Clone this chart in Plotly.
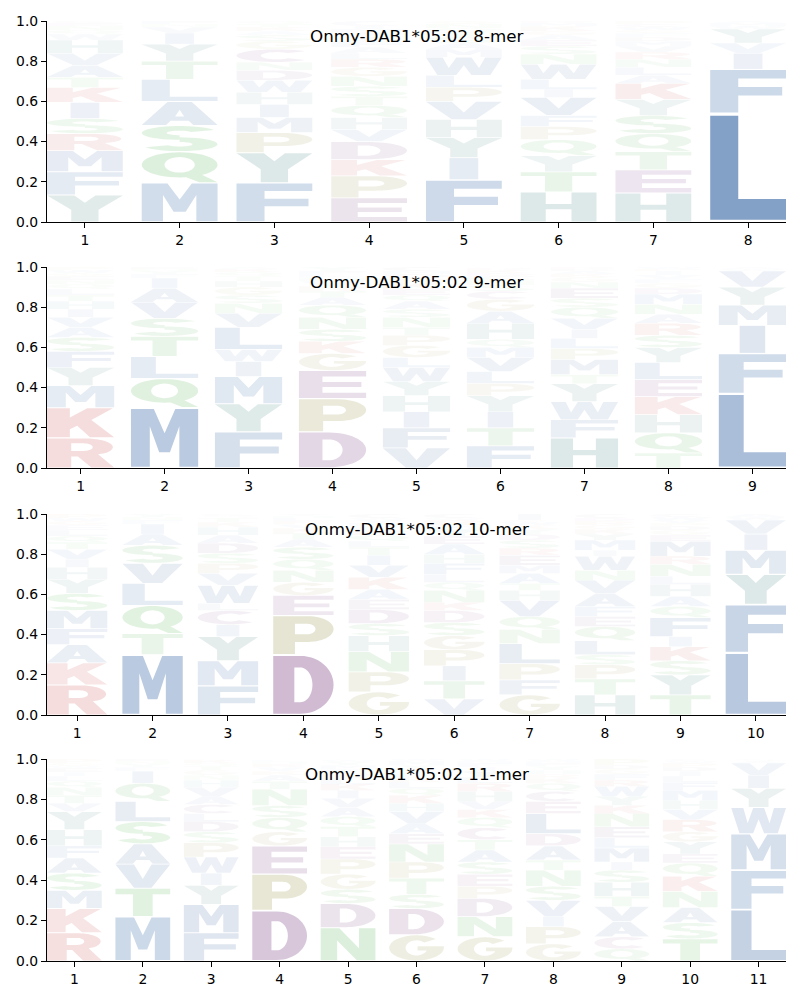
import math
import plotly.graph_objects as go

# ---------------- data ----------------
TITLES = ["Onmy-DAB1*05:02 8-mer", "Onmy-DAB1*05:02 9-mer",
          "Onmy-DAB1*05:02 10-mer", "Onmy-DAB1*05:02 11-mer"]

MER8_LETTERS = ["YFMRSIKTAVHWQNEG", "MQSALTYIVNF", "FYPMIHWDNCGSAKTQ",
                "EPKDVHQTSNGRLAFYWMIC", "FIYHVPLWMASTQNG", "HTYQPFVILWNSEAGKMR",
                "HETQSYKALNRVMDFGWCP", "LFIVYWMA"]
MER8_HEIGHTS = [
    [.135, .115, .105, .085, .075, .08, .075, .05, .06, .06, .065, .03, .02, .02, .015, .01],
    [.195, .155, .13, .12, .11, .09, .085, .055, .03, .015, .015],
    [.195, .15, .1, .075, .065, .06, .06, .05, .04, .065, .04, .03, .02, .02, .015, .015],
    [.12, .11, .08, .09, .06, .06, .06, .045, .05, .05, .045, .04, .03, .03, .03, .025, .02, .015, .015, .025],
    [.21, .11, .1, .09, .09, .07, .06, .09, .04, .03, .03, .025, .02, .02, .015],
    [.15, .1, .08, .08, .065, .055, .09, .04, .05, .075, .05, .04, .03, .025, .02, .025, .015, .01],
    [.145, .115, .09, .09, .09, .08, .08, .04, .04, .04, .035, .03, .025, .02, .02, .015, .015, .015, .015],
    [.54, .22, .08, .05, .07, .015, .015, .01],
]

MER9_LETTERS = ["RKMYFSAVIHTLQNEGWP", "MQLTSVAIFYNE", "FYMIWLVNSGHTQKA",
                "DPEGKSNQATRVHLFY", "VFIHYWLGPTNSAQEKRDMC", "FTIYPLVMQHAGCSNEDKRW",
                "HFWYTMPLIVQSENGKADR", "TQHKELYSRANMDGFVIPW", "LFIMYVWA"]
MER9_HEIGHTS = [
    [.15, .15, .11, .09, .08, .07, .05, .05, .04, .04, .03, .03, .025, .02, .02, .015, .015, .015],
    [.3, .145, .11, .1, .09, .08, .07, .05, .02, .015, .01, .01],
    [.18, .14, .135, .075, .06, .11, .07, .05, .04, .04, .03, .025, .02, .015, .01],
    [.18, .165, .14, .085, .06, .06, .06, .06, .04, .03, .025, .025, .02, .015, .015, .02],
    [.1, .1, .08, .08, .07, .07, .05, .06, .05, .04, .05, .04, .04, .03, .03, .03, .025, .02, .015, .02],
    [.11, .09, .08, .08, .06, .06, .07, .05, .04, .08, .06, .06, .04, .03, .025, .02, .015, .015, .01, .005],
    [.15, .09, .09, .09, .045, .075, .055, .05, .045, .055, .055, .045, .05, .03, .025, .015, .015, .01, .01],
    [.075, .1, .09, .09, .085, .085, .075, .06, .06, .045, .05, .05, .03, .025, .02, .02, .02, .01, .01],
    [.37, .2, .14, .1, .09, .08, .01, .01],
]

MER10_LETTERS = ["RKAFMSYHIVTQLEGWP", "MTQLVSAIFNY", "FMYICLWVPSDAHKTQG",
                 "DPEGNQSATKVRLHY", "GPNHSDEAKVITLQRFMYWC", "VTIPGSDKNQLFHAEYMRWC",
                 "GFPLNQVHTAMERSDYKWCI", "HTPSLQEFAVNWIMYKGRDC", "TYSKIFQAHLNRMEGDPVWC",
                 "LFYMIVWA"]
MER10_HEIGHTS = [
    [.15, .11, .09, .08, .09, .085, .07, .06, .04, .05, .035, .03, .03, .025, .02, .015, .02],
    [.3, .105, .14, .11, .1, .09, .055, .05, .02, .015, .015],
    [.145, .125, .12, .06, .07, .035, .09, .06, .05, .05, .05, .04, .04, .025, .02, .01, .01],
    [.3, .195, .1, .065, .06, .055, .06, .04, .03, .025, .02, .015, .015, .01, .01],
    [.115, .1, .1, .08, .06, .07, .05, .05, .06, .06, .05, .04, .03, .03, .025, .02, .015, .015, .01, .02],
    [.08, .09, .075, .08, .07, .065, .06, .04, .06, .04, .04, .055, .045, .05, .04, .035, .02, .025, .01, .02],
    [.1, .075, .08, .1, .07, .065, .08, .05, .035, .05, .04, .05, .035, .04, .03, .025, .02, .015, .01, .03],
    [.1, .08, .07, .05, .07, .07, .05, .05, .065, .065, .05, .07, .03, .05, .03, .025, .02, .02, .015, .02],
    [.1, .1, .07, .07, .05, .095, .055, .05, .06, .04, .06, .04, .075, .03, .025, .02, .015, .015, .015, .015],
    [.31, .24, .15, .12, .08, .07, .015, .015],
]

MER11_LETTERS = ["RKMSAFHYVTNQLIEWGP", "MTVASLQIFYNE", "FMYIWPSDLCAVHNGTQKR",
                 "DPEGQSNTAKVRHLY", "NDSGPEHTQAVIKLRFMYWC", "GDSTPNEAVHKQLRFIYMW",
                 "GNDPESATCQKVHRLYIFMW", "GPIVSNTADLECQKRHYFMW", "QCAVTHSIMLENKYWRFGDP",
                 "TSANKQEYGRVHMFLIDPWC", "LFMWYIVAS"]
MER11_HEIGHTS = [
    [.14, .12, .09, .085, .075, .06, .08, .09, .04, .04, .04, .03, .025, .02, .02, .01, .015, .02],
    [.22, .14, .12, .1, .11, .1, .09, .06, .02, .015, .015, .01],
    [.14, .14, .095, .06, .08, .07, .055, .05, .04, .045, .04, .045, .035, .025, .025, .02, .015, .015, .005],
    [.25, .18, .14, .07, .07, .06, .08, .04, .03, .02, .02, .015, .01, .01, .005],
    [.165, .12, .07, .075, .075, .06, .05, .05, .05, .045, .045, .04, .03, .03, .025, .02, .02, .015, .01, .005],
    [.13, .13, .07, .08, .08, .09, .05, .05, .06, .04, .04, .035, .03, .025, .02, .02, .02, .02, .01],
    [.12, .1, .09, .06, .06, .06, .06, .05, .06, .05, .04, .04, .05, .04, .03, .03, .02, .02, .01, .01],
    [.085, .085, .05, .08, .07, .08, .05, .07, .06, .1, .06, .05, .04, .025, .02, .02, .02, .015, .01, .01],
    [.06, .06, .075, .075, .05, .07, .06, .04, .07, .05, .055, .065, .04, .045, .05, .03, .03, .025, .02, .03],
    [.11, .08, .075, .08, .075, .065, .045, .06, .05, .06, .05, .045, .05, .04, .03, .025, .02, .02, .01, .01],
    [.255, .195, .18, .13, .095, .065, .06, .01, .01],
]

PANELS = [(MER8_LETTERS, MER8_HEIGHTS), (MER9_LETTERS, MER9_HEIGHTS),
          (MER10_LETTERS, MER10_HEIGHTS), (MER11_LETTERS, MER11_HEIGHTS)]

# ---------------- style ----------------
BLUE = (25, 80, 151)
TEAL = (30, 110, 100)
RED = (190, 30, 30)
GREEN = (40, 160, 40)
PURPLE = (100, 30, 110)
OLIVE = (130, 120, 30)
LETTER_COLOR = {}
for c in "AFILMVW":
    LETTER_COLOR[c] = BLUE
for c in "YH":
    LETTER_COLOR[c] = TEAL
for c in "KR":
    LETTER_COLOR[c] = RED
for c in "STNQ":
    LETTER_COLOR[c] = GREEN
for c in "DEC":
    LETTER_COLOR[c] = PURPLE
for c in "PG":
    LETTER_COLOR[c] = OLIVE

GLYPH_WIDTH = 0.8
VPAD = 0.04


# ---------------- glyph outlines in a unit box ----------------
def arc(cx, cy, rx, ry, a0, a1, n=28):
    pts = []
    for i in range(n + 1):
        a = math.radians(a0 + (a1 - a0) * i / n)
        pts.append((cx + rx * math.cos(a), cy + ry * math.sin(a)))
    return pts


def build_glyphs():
    g = {}
    g["A"] = [([(0, 0), (.32, 0), (.38, .19), (.62, .19), (.68, 0), (1, 0), (.66, 1), (.34, 1)], False),
              ([(.44, .37), (.56, .37), (.5, .66)], True)]
    g["C"] = [(arc(.53, .5, .53, .5, 45, 315) + arc(.53, .5, .21, .29, 315, 45), False)]
    g["D"] = [([(0, 0), (.45, 0)] + arc(.45, .5, .55, .5, -90, 90) + [(0, 1)], False),
              ([(.35, .2), (.45, .2)] + arc(.45, .5, .2, .3, -90, 90) + [(.35, .8)], True)]
    g["E"] = [([(0, 0), (1, 0), (1, .2), (.35, .2), (.35, .41), (.93, .41), (.93, .6), (.35, .6),
                (.35, .8), (1, .8), (1, 1), (0, 1)], False)]
    g["F"] = [([(0, 0), (.37, 0), (.37, .4), (.95, .4), (.95, .6), (.37, .6), (.37, .8), (1, .8),
                (1, 1), (0, 1)], False)]
    g["G"] = [(arc(.5, .5, .5, .5, 45, 360) + [(1, .56), (.52, .56), (.52, .4)]
               + arc(.5, .5, .2, .3, -20, -315), False)]
    g["H"] = [([(0, 0), (.33, 0), (.33, .42), (.67, .42), (.67, 0), (1, 0), (1, 1), (.67, 1),
                (.67, .6), (.33, .6), (.33, 1), (0, 1)], False)]
    g["I"] = [([(.31, 0), (.69, 0), (.69, 1), (.31, 1)], False)]
    g["K"] = [([(0, 0), (.34, 0), (.34, .28), (.45, .4), (.64, 0), (1, 0), (.66, .6), (.98, 1),
                (.6, 1), (.34, .68), (.34, 1), (0, 1)], False)]
    g["L"] = [([(0, 0), (1, 0), (1, .2), (.37, .2), (.37, 1), (0, 1)], False)]
    g["M"] = [([(0, 0), (.28, 0), (.28, .7), (.42, .25), (.58, .25), (.72, .7), (.72, 0), (1, 0),
                (1, 1), (.66, 1), (.5, .58), (.34, 1), (0, 1)], False)]
    g["N"] = [([(0, 0), (.3, 0), (.3, .62), (.66, 0), (1, 0), (1, 1), (.7, 1), (.7, .38),
                (.34, 1), (0, 1)], False)]
    g["P"] = [([(0, 0), (.36, 0), (.36, .32), (.58, .32)] + arc(.58, .66, .42, .34, -90, 90)
               + [(0, 1)], False),
              ([(.36, .52), (.56, .52)] + arc(.56, .66, .14, .14, -90, 90) + [(.36, .8)], True)]
    g["Q"] = [(arc(.5, .58, .5, .42, 0, 360, 48), False),
              (arc(.5, .58, .2, .26, 0, 360, 40), True),
              ([(.55, .2), (.76, 0), (1, 0), (.8, .24)], False)]
    g["R"] = [([(0, 0), (.36, 0), (.36, .38), (.46, .38), (.66, 0), (1, 0), (.76, .45)]
               + arc(.56, .7, .42, .3, -45, 90) + [(0, 1)], False),
              ([(.36, .57), (.55, .57)] + arc(.55, .7, .13, .13, -90, 90) + [(.36, .83)], True)]
    g["S"] = [(arc(.5, .725, .5, .275, 25, 270) + arc(.5, .275, .17, .09, 90, -155)
               + arc(.5, .275, .5, .275, -155, 90) + arc(.5, .725, .17, .09, 270, 25), False)]
    g["T"] = [([(.32, 0), (.68, 0), (.68, .8), (1, .8), (1, 1), (0, 1), (0, .8), (.32, .8)], False)]
    g["V"] = [([(0, 1), (.34, 1), (.5, .38), (.66, 1), (1, 1), (.66, 0), (.34, 0)], False)]
    g["W"] = [([(0, 1), (.22, 1), (.3, .4), (.4, 1), (.6, 1), (.7, .4), (.78, 1), (1, 1),
                (.85, 0), (.6, 0), (.5, .55), (.4, 0), (.15, 0)], False)]
    g["Y"] = [([(0, 1), (.36, 1), (.5, .72), (.64, 1), (1, 1), (.68, .45), (.68, 0), (.32, 0),
                (.32, .45)], False)]
    return g


GLYPHS = build_glyphs()


def signed_area(pts):
    s = 0.0
    for i in range(len(pts)):
        x1, y1 = pts[i]
        x2, y2 = pts[(i + 1) % len(pts)]
        s += x1 * y2 - x2 * y1
    return s / 2


def glyph_path(letter, xc, y0, h):
    x_left = xc - GLYPH_WIDTH / 2
    gb = y0 + h * VPAD / 2
    gh = h * (1 - VPAD)
    parts = []
    for pts, hole in GLYPHS[letter]:
        a = signed_area(pts)
        if (a > 0) == hole:
            pts = pts[::-1]
        coords = ["%.5f,%.5f" % (x_left + px * GLYPH_WIDTH, gb + py * gh) for px, py in pts]
        parts.append("M" + " L".join(coords) + " Z")
    return " ".join(parts)


# ---------------- figure ----------------
fig = go.Figure()
PLOT_TOP, PLOT_BOTTOM = 21, 961
PANEL_PX = [(21, 222), (267, 468), (514, 715), (759, 961)]
span = PLOT_BOTTOM - PLOT_TOP

shapes = []
annotations = []
layout = {}
for i, (letters_list, heights_list) in enumerate(PANELS):
    k = i + 1
    xa = "x" if k == 1 else "x%d" % k
    ya = "y" if k == 1 else "y%d" % k
    top_px, bot_px = PANEL_PX[i]
    dom = [1 - (bot_px - PLOT_TOP) / span, 1 - (top_px - PLOT_TOP) / span]
    n = len(letters_list)
    layout["xaxis" if k == 1 else "xaxis%d" % k] = dict(
        domain=[0, 1], anchor=ya, range=[0.6, n + 0.4],
        tickmode="array", tickvals=list(range(1, n + 1)),
        ticktext=[str(v) for v in range(1, n + 1)],
        showline=True, linecolor="black", linewidth=1.1, mirror=False,
        ticks="outside", ticklen=5, tickwidth=1.1, tickcolor="black",
        showgrid=False, zeroline=False,
        tickfont=dict(family="DejaVu Sans", size=13.9, color="black"))
    layout["yaxis" if k == 1 else "yaxis%d" % k] = dict(
        domain=dom, anchor=xa, range=[0, 1],
        tickmode="array", tickvals=[0, 0.2, 0.4, 0.6, 0.8, 1.0],
        ticktext=["0.0", "0.2", "0.4", "0.6", "0.8", "1.0"],
        showline=True, linecolor="black", linewidth=1.1, mirror=False,
        ticks="outside", ticklen=5, tickwidth=1.1, tickcolor="black",
        showgrid=False, zeroline=False,
        tickfont=dict(family="DejaVu Sans", size=13.9, color="black"))

    for j, (letters, heights) in enumerate(zip(letters_list, heights_list)):
        pos = j + 1
        y = 0.0
        for letter, hgt in zip(letters, heights):
            r, g, b = LETTER_COLOR[letter]
            alpha = max(0.0, min(1.0, hgt))
            shapes.append(dict(
                type="path", xref=xa, yref=ya,
                path=glyph_path(letter, pos, y, hgt),
                fillcolor="rgba(%d,%d,%d,%.3f)" % (r, g, b, alpha),
                line=dict(width=0), fillrule="nonzero", layer="above"))
            y += hgt

    annotations.append(dict(
        text=TITLES[i], xref=xa + " domain", yref=ya + " domain",
        x=0.5, y=1 - 15 / 201, xanchor="center", yanchor="middle",
        showarrow=False, font=dict(family="DejaVu Sans", size=16.7, color="black")))

fig.update_layout(
    width=800, height=1000,
    margin=dict(l=47, r=14, t=PLOT_TOP, b=1000 - PLOT_BOTTOM),
    paper_bgcolor="white", plot_bgcolor="white",
    showlegend=False, shapes=shapes, annotations=annotations, **layout)

fig.write_html("out.html", config={"displayModeBar": False},
               post_script="document.body.style.margin='0';")
